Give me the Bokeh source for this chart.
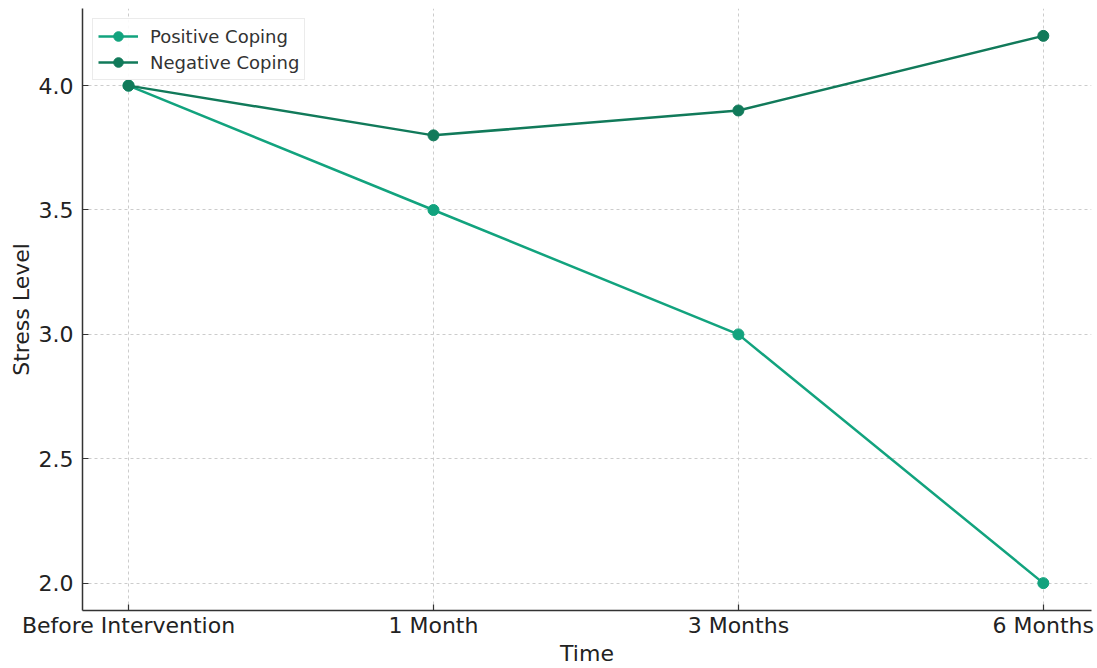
from bokeh.plotting import figure
from bokeh.models import FixedTicker, Range1d, Legend, LegendItem, CustomJSTickFormatter
from bokeh.embed import file_html
from bokeh.resources import INLINE

categories = ["Before Intervention", "1 Month", "3 Months", "6 Months"]
positive = [4.0, 3.5, 3.0, 2.0]
negative = [4.0, 3.8, 3.9, 4.2]
y_ticks = [2.0, 2.5, 3.0, 3.5, 4.0]

xs = list(range(len(categories)))
FONT = "DejaVu Sans"
POS_C = "#12a37e"
NEG_C = "#117a5a"

p = figure(width=1097, height=668, output_backend="svg", toolbar_location=None,
           x_range=Range1d(-0.151, 3.158), y_range=Range1d(1.89, 4.31),
           min_border_left=82, min_border_right=6, min_border_top=8, min_border_bottom=55)
p.outline_line_color = None
p.background_fill_color = "white"

for ax in (p.xaxis[0], p.yaxis[0]):
    ax.axis_line_color = "#333333"
    ax.axis_line_width = 1.5
    ax.major_tick_line_color = "#333333"
    ax.major_tick_line_width = 1.2
    ax.major_tick_out = 0
    ax.major_tick_in = 6
    ax.minor_tick_line_color = None
    ax.major_label_text_font = FONT
    ax.major_label_text_font_size = "22px"
    ax.major_label_text_color = "#222222"
    ax.axis_label_text_font = FONT
    ax.axis_label_text_font_size = "22px"
    ax.axis_label_text_font_style = "normal"
    ax.axis_label_text_color = "#222222"

p.xaxis.ticker = FixedTicker(ticks=xs)
p.xaxis.major_label_overrides = {i: c for i, c in enumerate(categories)}
p.xaxis.axis_label = "Time"
p.xaxis.major_label_standoff = 2
p.xaxis.axis_label_standoff = 0
p.yaxis.ticker = FixedTicker(ticks=y_ticks)
p.yaxis.formatter = CustomJSTickFormatter(code="return tick.toFixed(1);")
p.yaxis.axis_label = "Stress Level"
p.yaxis.major_label_standoff = 9
p.yaxis.axis_label_standoff = 2

for g in (p.xgrid[0], p.ygrid[0]):
    g.grid_line_color = "#cccccc"
    g.grid_line_dash = "3 3"
    g.grid_line_width = 1

l1 = p.line(xs, positive, line_color=POS_C, line_width=2.5)
s1 = p.scatter(xs, positive, size=11, fill_color=POS_C, line_color=POS_C)
l2 = p.line(xs, negative, line_color=NEG_C, line_width=2.5)
s2 = p.scatter(xs, negative, size=11, fill_color=NEG_C, line_color=NEG_C)

legend = Legend(items=[LegendItem(label="Positive Coping", renderers=[l1, s1]),
                       LegendItem(label="Negative Coping", renderers=[l2, s2])],
                location="top_left")
legend.margin = 10
legend.padding = 5
legend.spacing = 2
legend.glyph_width = 40
legend.glyph_height = 24
legend.label_standoff = 12
legend.label_text_font = FONT
legend.label_text_font_size = "18px"
legend.label_text_color = "#333333"
legend.border_line_color = "#d8d8d8"
legend.border_line_width = 1
legend.background_fill_alpha = 0.9
p.add_layout(legend)

open("out.html", "w").write(file_html(p, INLINE))
